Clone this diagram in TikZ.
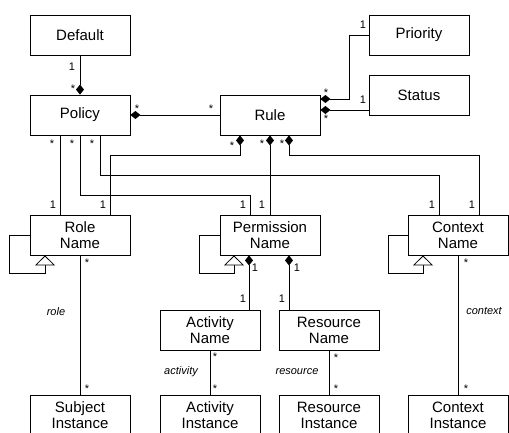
\documentclass[tikz,border=0pt]{standalone}
\usepackage{fontspec}
\setmainfont{Liberation Sans}
\usetikzlibrary{arrows.meta}
\begin{document}
\begin{tikzpicture}[x=1pt,y=-1pt,
  cls/.style={draw,line width=0.8pt,minimum width=100pt,minimum height=40pt,inner sep=0pt,align=center,font=\fontsize{15}{16}\selectfont},
  lnk/.style={line width=0.8pt},
  comp/.style={{Diamond[length=10pt,width=8pt]}-},
  gen/.style={-{Triangle[open,length=10pt,width=20pt,fill=white]}},
  ml/.style={font=\fontsize{11}{11}\selectfont,inner sep=0pt},
  rl/.style={font=\fontsize{11}{11}\selectfont\itshape,inner sep=0pt}]
\useasboundingbox (0,0) rectangle (509,433);
% classes
\node[cls] (Default) at (80,35) {Default};
\node[cls] (Policy) at (80,115) {Policy};
\node[cls] (Rule) at (270,115) {Rule};
\node[cls] (Priority) at (419,35) {Priority};
\node[cls] (Status) at (419,95) {Status};
\node[cls] (Role) at (80,235) {Role\\Name};
\node[cls] (Perm) at (270,235) {Permission\\Name};
\node[cls] (Ctx) at (458,235) {Context\\Name};
\node[cls] (Act) at (210,330) {Activity\\Name};
\node[cls] (Res) at (329,330) {Resource\\Name};
\node[cls] (Subj) at (80,415) {Subject\\Instance};
\node[cls] (ActI) at (210,415) {Activity\\Instance};
\node[cls] (ResI) at (329,415) {Resource\\Instance};
\node[cls] (CtxI) at (458,415) {Context\\Instance};
% compositions
\draw[lnk,comp] (Policy.north) -- (Default.south);
\draw[lnk,comp] (Policy.east) -- (Rule.west);
\draw[lnk,comp] ([yshift=16pt]Rule.east) -- ++(29,0) |- (Priority.west);
\draw[lnk,comp] ([yshift=5pt]Rule.east) -- ([yshift=-15pt]Status.west);
\draw[lnk,comp] ([xshift=-30pt]Rule.south) -- ++(0,20) -| ([xshift=30pt]Role.north);
\draw[lnk,comp] (Rule.south) -- (Perm.north);
\draw[lnk,comp] ([xshift=19pt]Rule.south) -- ++(0,20) -| ([xshift=21pt]Ctx.north);
\draw[lnk,comp] ([xshift=-21pt]Perm.south) -- ([xshift=39pt]Act.north);
\draw[lnk,comp] ([xshift=19pt]Perm.south) -- ([xshift=-40pt]Res.north);
% associations
\draw[lnk] ([xshift=-20pt]Policy.south) -- ([xshift=-20pt]Role.north);
\draw[lnk] (Policy.south) -- ++(0,60) -| ([xshift=-20pt]Perm.north);
\draw[lnk] ([xshift=20pt]Policy.south) -- ++(0,40) -| ([xshift=-19pt]Ctx.north);
\draw[lnk] (Role.south) -- (Subj.north);
\draw[lnk] (Act.south) -- (ActI.north);
\draw[lnk] (Res.south) -- (ResI.north);
\draw[lnk] (Ctx.south) -- (CtxI.north);
% generalization loops
\draw[lnk,gen] (Role.west) -- ++(-20,0) -- ++(0,38) -| ([xshift=-35pt]Role.south);
\draw[lnk,gen] (Perm.west) -- ++(-20,0) -- ++(0,38) -| ([xshift=-36pt]Perm.south);
\draw[lnk,gen] (Ctx.west) -- ++(-19,0) -- ++(0,38) -| ([xshift=-35pt]Ctx.south);
% multiplicities
\node[ml] (m1) at (72,67) {1};
\node[ml] (m2) at (73,89) {*};
\node[ml] (m3) at (137,109) {*};
\node[ml] (m4) at (211,109) {*};
\node[ml] (m5) at (52,144) {*};
\node[ml] (m6) at (72,144) {*};
\node[ml] (m7) at (92,144) {*};
\node[ml] (m8) at (53,205) {1};
\node[ml] (m9) at (103,205) {1};
\node[ml] (m10) at (243,205) {1};
\node[ml] (m11) at (262,205) {1};
\node[ml] (m12) at (432,205) {1};
\node[ml] (m13) at (472,205) {1};
\node[ml] (m14) at (232,146) {*};
\node[ml] (m15) at (262,144) {*};
\node[ml] (m16) at (282,144) {*};
\node[ml] (m17) at (326,93) {*};
\node[ml] (m18) at (326,119) {*};
\node[ml] (m19) at (363,25) {1};
\node[ml] (m20) at (363,100) {1};
\node[ml] (m21) at (87,263) {*};
\node[ml] (m22) at (87,389) {*};
\node[ml] (m23) at (255,268) {1};
\node[ml] (m24) at (297,268) {1};
\node[ml] (m25) at (243,299) {1};
\node[ml] (m26) at (282,299) {1};
\node[ml] (m27) at (215,357) {*};
\node[ml] (m28) at (215,389) {*};
\node[ml] (m29) at (336,358) {*};
\node[ml] (m30) at (336,389) {*};
\node[ml] (m31) at (466,263) {*};
\node[ml] (m32) at (466,389) {*};
% role names
\node[rl] (r1) at (56,312) {role};
\node[rl] (r2) at (181,372) {activity};
\node[rl] (r3) at (297,372) {resource};
\node[rl] (r4) at (484,311) {context};
\end{tikzpicture}
\end{document}
